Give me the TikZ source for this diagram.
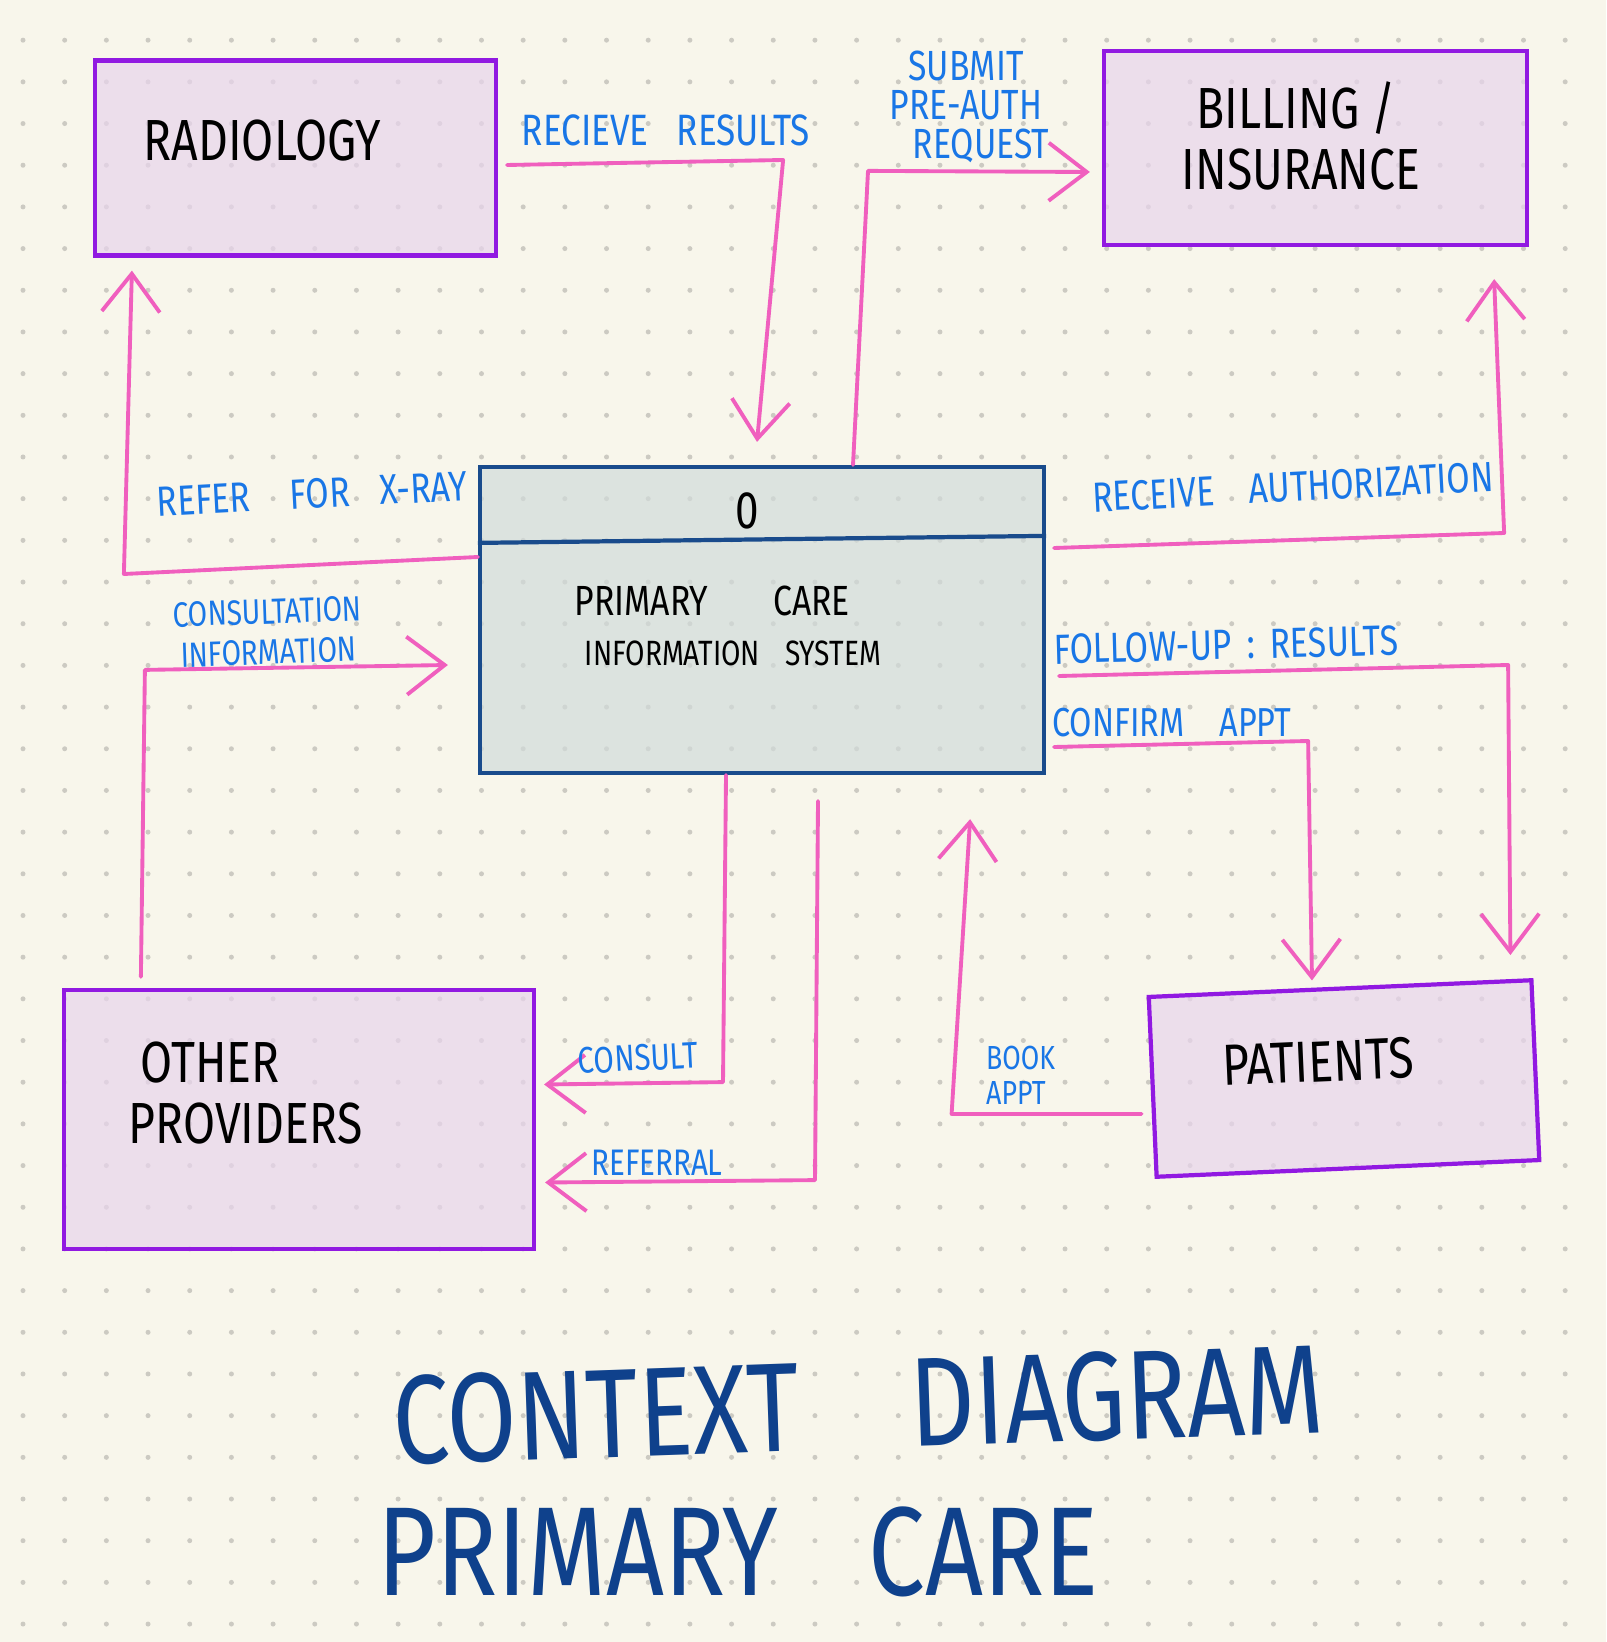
\documentclass[tikz,border=0pt]{standalone}
\usepackage{fontspec}
\setmainfont{Fira Sans}[FakeStretch=0.8]
\usetikzlibrary{arrows.meta, calc}
\definecolor{paper}{RGB}{248,246,235}
\definecolor{dotgray}{RGB}{204,202,194}
\definecolor{entfill}{RGB}{232,212,236}
\definecolor{entborder}{RGB}{145,25,225}
\definecolor{sysfill}{RGB}{209,219,218}
\definecolor{sysborder}{RGB}{25,75,140}
\definecolor{flowpink}{RGB}{240,95,190}
\definecolor{flowblue}{RGB}{25,118,230}
\definecolor{titleblue}{RGB}{15,65,140}

\begin{document}
\begin{tikzpicture}[
  x=0.1mm, y=-0.1mm,
  entity/.style={rectangle, draw=entborder, fill=entfill, line width=1.2pt, fill opacity=0.7, text opacity=1, inner sep=0pt},
  system/.style={rectangle, draw=sysborder, fill=sysfill, line width=1.2pt, fill opacity=0.7, text opacity=1, inner sep=0pt},
  entname/.style={font=\fontsize{16.5}{17.5}\selectfont, anchor=west, align=left, inner sep=0pt},
  flow/.style={draw=flowpink, line width=1.1pt, line join=round, line cap=round, -{Straight Barb[length=3.8mm, width=5.8mm]}},
  flowlabel/.style={text=flowblue, font=\fontsize{12}{14}\selectfont, inner sep=1pt},
  headline/.style={text=titleblue, font=\fontsize{36}{40}\selectfont, inner sep=0pt}
]
  % paper with dot grid
  \fill[paper] (0,0) rectangle (1606,1642);
  \useasboundingbox (0,0) rectangle (1606,1642);
  \foreach \i in {0,...,37}
    \foreach \j in {0,...,38}
      \fill[dotgray] (23+41.68*\i, 40.2+41.68*\j) circle (0.25mm);

  % external entities
  \node[entity, minimum width=40.1mm, minimum height=19.5mm] (radio) at (295.5,158) {};
  \node[entname] (radiotxt) at (143,141) {RADIOLOGY};
  \node[entity, minimum width=42.3mm, minimum height=19.4mm] (billing) at (1315.5,148) {};
  \node[entname] (billtxt) at (1181,136) {\hspace*{1.5mm}BILLING /\\INSURANCE};
  \node[entity, minimum width=47mm, minimum height=25.9mm] (others) at (299,1119.5) {};
  \node[entname] (othertxt) at (128,1093) {\hspace*{1.2mm}OTHER\\PROVIDERS};
  \node[entity, rotate=2.5, minimum width=38.3mm, minimum height=18mm] (patients) at (1344,1078.5) {};
  \node[entname, rotate=2.5] (pattxt) at (1222,1066) {PATIENTS};

  % process 0
  \node[system, minimum width=56.4mm, minimum height=30.6mm] (pcis) at (762,620) {};
  \draw[sysborder, line width=1.2pt] ($(pcis.north west)+(0,78)$) -- ($(pcis.north east)+(0,71)$);
  \node[font=\fontsize{15}{18}\selectfont] (procid) at (747,511) {0};
  \node[font=\fontsize{10}{14.2}\selectfont, anchor=west, align=left, inner sep=0pt] (proctxt) at (574,626)
    {{\fontsize{12}{14.2}\selectfont PRIMARY\hspace{6.5mm}CARE}\\\hspace*{1mm}INFORMATION\hspace{2.5mm}SYSTEM};

  % data flows
  \draw[flow] ($(radio.east)+(9,7)$) -- ++(276,-5) -- ($(pcis.north)+(-5,-23)$);
  \draw[flow] ($(pcis.north)+(91,0)$) -- ++(15,-294) -- ($(billing.west)+(-12,24)$);
  \draw[flow] ($(pcis.west)+(0,-63)$) -- ++(-354,17) -- ($(radio.south west)+(39,13)$);
  \draw[flow] ($(pcis.east)+(8,-72)$) -- ++(450,-15) -- ($(billing.south east)+(-35,32)$);
  \draw[flow] ($(others.north west)+(79,-11)$) -- ++(4,-307) -- ($(pcis.west)+(-30,45)$);
  \draw[flow] ($(pcis.east)+(13,56)$) -- ++(449,-11) -- ($(patients.north east)+(-23,-23)$);
  \draw[flow] ($(pcis.east)+(8,127)$) -- ++(254,-6) -- ($(patients.north)+(-28,-6)$);
  \draw[flow] ($(pcis.south)+(-36,0)$) -- ++(-3,307) -- ($(others.east)+(8,-35)$);
  \draw[flow] ($(pcis.south)+(56,26)$) -- ++(-3,379) -- ($(others.east)+(9,63)$);
  \draw[flow] ($(patients.west)+(-9,27)$) -- ++(-190,0) -- ($(pcis.south east)+(-76,44)$);

  % flow labels
  \node[flowlabel, font=\fontsize{12.5}{14}\selectfont] (lblresults) at (666,130) {RECIEVE\hspace{2.8mm}RESULTS};
  \node[flowlabel, align=center, font=\fontsize{12}{11}\selectfont] (lblsubmit) at (966,107) {SUBMIT\\PRE-AUTH\\\hspace*{3mm}REQUEST};
  \node[flowlabel, rotate=3] (lblrefer) at (312,494) {REFER\hspace{4mm}FOR\hspace{3mm}X-RAY};
  \node[flowlabel, rotate=2, align=center, font=\fontsize{10}{11.5}\selectfont] (lblconsinfo) at (268,632) {CONSULTATION\\INFORMATION};
  \node[flowlabel, rotate=3] (lblauth) at (1293,487) {RECEIVE\hspace{3.5mm}AUTHORIZATION};
  \node[flowlabel, rotate=1.5] (lblfollow) at (1226,645) {FOLLOW-UP\hspace{1.5mm}:\hspace{1.5mm}RESULTS};
  \node[flowlabel, font=\fontsize{11.5}{14}\selectfont] (lblconfirm) at (1172,723) {CONFIRM\hspace{3.5mm}APPT};
  \node[flowlabel, rotate=3, font=\fontsize{10.5}{12}\selectfont] (lblconsult) at (638,1058) {CONSULT};
  \node[flowlabel, font=\fontsize{10.5}{12}\selectfont] (lblreferral) at (657,1163) {REFERRAL};
  \node[flowlabel, anchor=west, align=left, font=\fontsize{9.5}{10}\selectfont] (lblbook) at (982,1075) {BOOK\\APPT};

  % title
  \node[headline, rotate=2] (title1) at (858,1405) {CONTEXT\hspace{11mm}DIAGRAM};
  \node[headline] (title2) at (738,1552) {PRIMARY\hspace{9mm}CARE};
\end{tikzpicture}
\end{document}
